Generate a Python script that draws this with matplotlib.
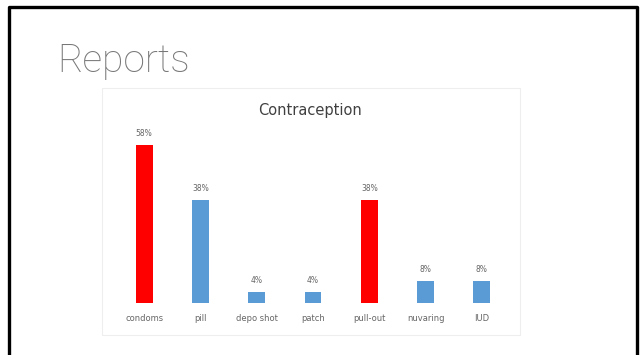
import matplotlib.pyplot as plt
from matplotlib.patches import Rectangle

# Data
categories = ["condoms", "pill", "depo shot", "patch", "pull-out", "nuvaring", "IUD"]
values = [58, 38, 4, 4, 38, 8, 8]
colors = ["#FF0000", "#5B9BD5", "#5B9BD5", "#5B9BD5", "#FF0000", "#5B9BD5", "#5B9BD5"]

W, H = 644, 355
fig = plt.figure(figsize=(W / 100, H / 100), dpi=100)
fig.patch.set_facecolor("white")

# slide border (open at the bottom)
fig.add_artist(plt.Line2D([9 / W, 9 / W, 637 / W, 637 / W],
                          [0, 1 - 7 / H, 1 - 7 / H, 0],
                          transform=fig.transFigure, color="black", lw=2.4))

# slide title
fig.text(57 / W, 1 - 72 / H, "Reports", fontsize=28, family="Roboto",
         fontweight=100, color="#777777", va="baseline")

# pasted chart frame
fig.add_artist(Rectangle((102 / W, 1 - 335 / H), 418 / W, 247 / H,
                         transform=fig.transFigure, facecolor="white",
                         edgecolor="#eeeeee", lw=0.8, zorder=-1))

ax = fig.add_axes([116 / W, 52 / H, 394 / W, 190.4 / H])
x = range(len(categories))
bars = ax.bar(x, values, width=0.3, color=colors)
for b, v in zip(bars, values):
    ax.text(b.get_x() + b.get_width() / 2, v + 2.5, f"{v}%", ha="center",
            va="bottom", fontsize=5.5, color="#666666")
ax.set_xlim(-0.5, 6.5)
ax.set_ylim(0, 70)
ax.set_xticks(list(x))
ax.set_xticklabels(categories, fontsize=6, color="#666666")
ax.tick_params(axis="x", length=0, pad=8)
ax.set_yticks([])
for s in ax.spines.values():
    s.set_visible(False)
ax.patch.set_alpha(0)

fig.text(310 / W, 1 - 111 / H, "Contraception", ha="center", va="center",
         fontsize=10.5, color="#404040")

fig.savefig("out.png", dpi=100)
